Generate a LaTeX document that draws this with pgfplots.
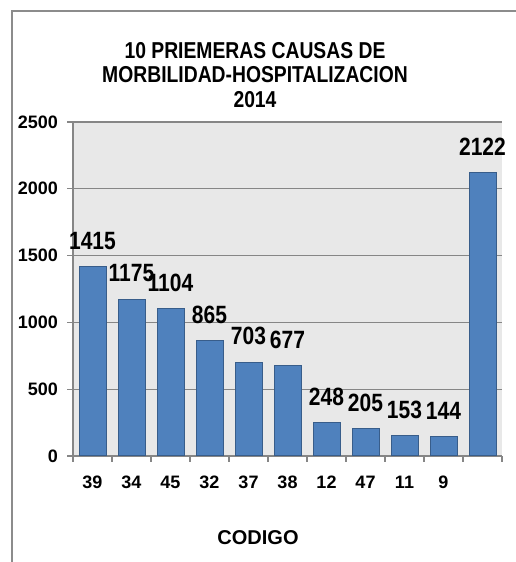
\documentclass[border=0pt]{standalone}
\usepackage{fontspec}
\setmainfont{Liberation Sans}
\newfontfamily\narrow[FakeStretch=0.84]{Liberation Sans}
\usepackage{pgfplots}
\pgfplotsset{compat=1.18}
\definecolor{barfill}{RGB}{79,129,189}
\definecolor{baredge}{RGB}{56,93,138}
\definecolor{gridc}{RGB}{134,134,134}
\definecolor{plotbg}{RGB}{232,232,232}
\definecolor{framec}{RGB}{140,140,140}
\begin{document}
\begin{tikzpicture}[x=1pt,y=1pt]
\path[use as bounding box] (0,0) rectangle (516,562);
\draw[framec, line width=2pt] (12,0) -- (12,551) -- (516,551);
\node[align=center, font=\narrow\bfseries\fontsize{23}{24.5}\selectfont] at (255,487)
  {10 PRIEMERAS CAUSAS DE\\MORBILIDAD-HOSPITALIZACION\\2014};
\begin{axis}[
  at={(73pt,106pt)}, anchor=south west,
  scale only axis, width=429pt, height=334pt,
  /pgf/number format/.cd, 1000 sep={}, assume math mode=true, /pgfplots/.cd,
  ymin=0, ymax=2500, ytick={0,500,...,2500},
  xmin=-0.5, xmax=10.5,
  xtick={-0.5,0.5,...,10.5},
  x tick label as interval,
  xticklabels={39,34,45,32,37,38,12,47,11,9,{}},
  axis x line*=bottom, axis y line*=left,
  axis line style={gridc, line width=1.5pt},
  every tick/.style={gridc, line width=1.2pt},
  tick align=outside,
  major tick length=5.5pt,
  ymajorgrids,
  grid style={gridc, line width=1.3pt},
  axis background/.style={fill=plotbg},
  ybar, bar width=27pt,
  enlargelimits=false,
  tick label style={font=\bfseries\fontsize{18}{18}\selectfont},
  xticklabel style={yshift=-11pt},
  yticklabel style={xshift=-6pt},
  nodes near coords,
  every node near coord/.append style={font=\narrow\bfseries\fontsize{25}{25}\selectfont, black, yshift=13pt},
]
\addplot[fill=barfill, draw=baredge, line width=1pt] coordinates {
  (0,1415) (1,1175) (2,1104) (3,865) (4,703) (5,677)
  (6,248) (7,205) (8,153) (9,144) (10,2122)};
\end{axis}
\node[font=\bfseries\fontsize{20}{20}\selectfont] at (258,24) {CODIGO};
\end{tikzpicture}
\end{document}
